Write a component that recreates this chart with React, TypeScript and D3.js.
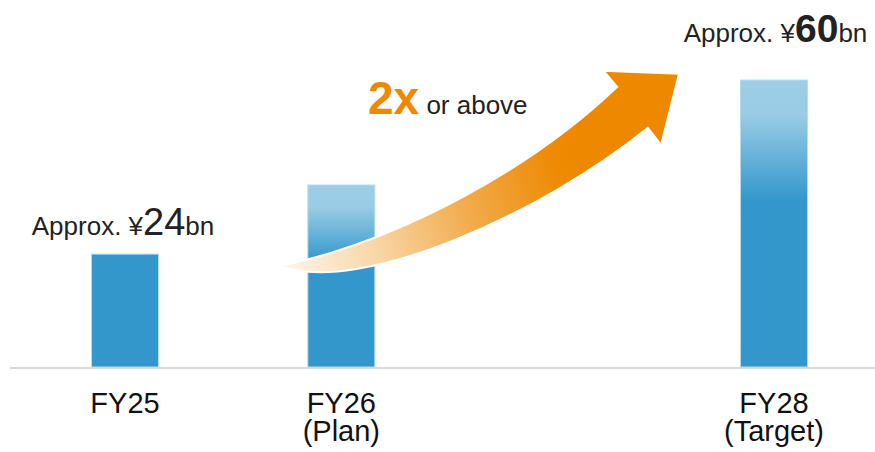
import React from "react";
import * as d3 from "d3";

const categories = ["FY25", "FY26", "FY27", "FY28"];
const subLabels = ["", "(Plan)", "", "(Target)"];
const values: (number | null)[] = [23.6, 38.05, null, 60];
const labelPrefix = "Approx. ¥";
const labelSuffix = "bn";
const valueLabels = ["24", "", "", "60"];
const growthText = "2x";
const growthSuffix = " or above";

const W = 875;
const H = 452;
const FONT = "'Liberation Sans', Arial, Helvetica, sans-serif";

export default function App() {
  const x = d3.scalePoint<string>().domain(categories).range([125, 774]).padding(0);
  const y = d3.scaleLinear().domain([0, 60]).range([367, 80]);
  const barW = 67;

  // Arrow geometry (annotation) relative to scale anchors
  const ax0 = (x("FY26") as number) - 61;
  const ax1 = (x("FY28") as number) - 95;
  const ay0 = y(21.1);
  const ay1 = y(61.3);
  const P = (fx: number, fy: number): [number, number] => [ax0 + fx * (ax1 - ax0), ay0 + fy * (ay1 - ay0)];
  const p = d3.path();
  const T = P(0, 0);
  p.moveTo(...T);
  p.bezierCurveTo(...P(0.301, 0.135), ...P(0.627, 0.5), ...P(0.845, 0.932));
  p.lineTo(...P(0.81, 1.016));
  p.lineTo(...P(1, 1));
  p.lineTo(...P(0.955, 0.63));
  p.lineTo(...P(0.922, 0.719));
  p.bezierCurveTo(...P(0.652, 0.266), ...P(0.2, -0.151), ...T);
  p.closePath();

  return (
    <div style={{ position: "fixed", left: 0, top: 0 }}>
      <svg width={W} height={H} style={{ display: "block", background: "#fff" }}>
        <defs>
          <linearGradient id="barGrad" x1="0" y1="0" x2="0" y2="1">
            <stop offset="0" stopColor="#9dcee6" />
            <stop offset="0.12" stopColor="#9acce5" />
            <stop offset="0.42" stopColor="#3397cb" />
            <stop offset="1" stopColor="#3397cb" />
          </linearGradient>
          <linearGradient id="arrowGrad" gradientUnits="userSpaceOnUse" x1={ax0} y1={ay0} x2={ax0 + 300} y2={ay0 - 105}>
            <stop offset="0" stopColor="#fef7ee" />
            <stop offset="0.3" stopColor="#f9d6a6" />
            <stop offset="0.62" stopColor="#f2aa4a" />
            <stop offset="0.92" stopColor="#ee8a04" />
            <stop offset="1" stopColor="#ee8800" />
          </linearGradient>
        </defs>

        {/* axis baseline */}
        <line x1={10} x2={W} y1={y(0) + 1} y2={y(0) + 1} stroke="#d9d9d9" strokeWidth={2} />

        {/* bars */}
        {categories.map((c, i) => {
          const v = values[i];
          if (v == null) return null;
          const cx = x(c) as number;
          return (
            <rect
              key={c}
              x={cx - barW / 2}
              y={y(v)}
              width={barW}
              height={y(0) - y(v)}
              fill={i === 0 ? "#3397cb" : "url(#barGrad)"}
              stroke="#b7dcef"
              strokeWidth={1}
            />
          );
        })}

        {/* arrow */}
        <path d={p.toString()} fill="url(#arrowGrad)" stroke="#fff" strokeWidth={2} strokeLinejoin="miter" />

        {/* growth text */}
        <text x={368} y={114} fontFamily={FONT} fill="#222">
          <tspan fontSize={46} fontWeight="bold" fill="#ee8800">{growthText}</tspan>
          <tspan fontSize={26}>{growthSuffix}</tspan>
        </text>

        {/* value labels */}
        {categories.map((c, i) => {
          const v = values[i];
          if (v == null || !valueLabels[i]) return null;
          const cx = x(c) as number;
          const bold = i === 3;
          return (
            <text key={c} x={cx + (bold ? 1.5 : -2)} y={bold ? 42 : 235} textAnchor="middle" fontFamily={FONT} fill="#222">
              <tspan fontSize={26}>{labelPrefix}</tspan>
              <tspan fontSize={bold ? 39 : 38} fontWeight={bold ? "bold" : "normal"}>{valueLabels[i]}</tspan>
              <tspan fontSize={26}>{labelSuffix}</tspan>
            </text>
          );
        })}

        {/* category labels */}
        {categories.map((c, i) => {
          if (values[i] == null) return null;
          const cx = x(c) as number;
          return (
            <text key={c} x={cx} textAnchor="middle" fontFamily={FONT} fontSize={29} fill="#111">
              <tspan x={cx} y={413}>{c}</tspan>
              {subLabels[i] ? <tspan x={cx} y={441}>{subLabels[i]}</tspan> : null}
            </text>
          );
        })}
      </svg>
    </div>
  );
}
